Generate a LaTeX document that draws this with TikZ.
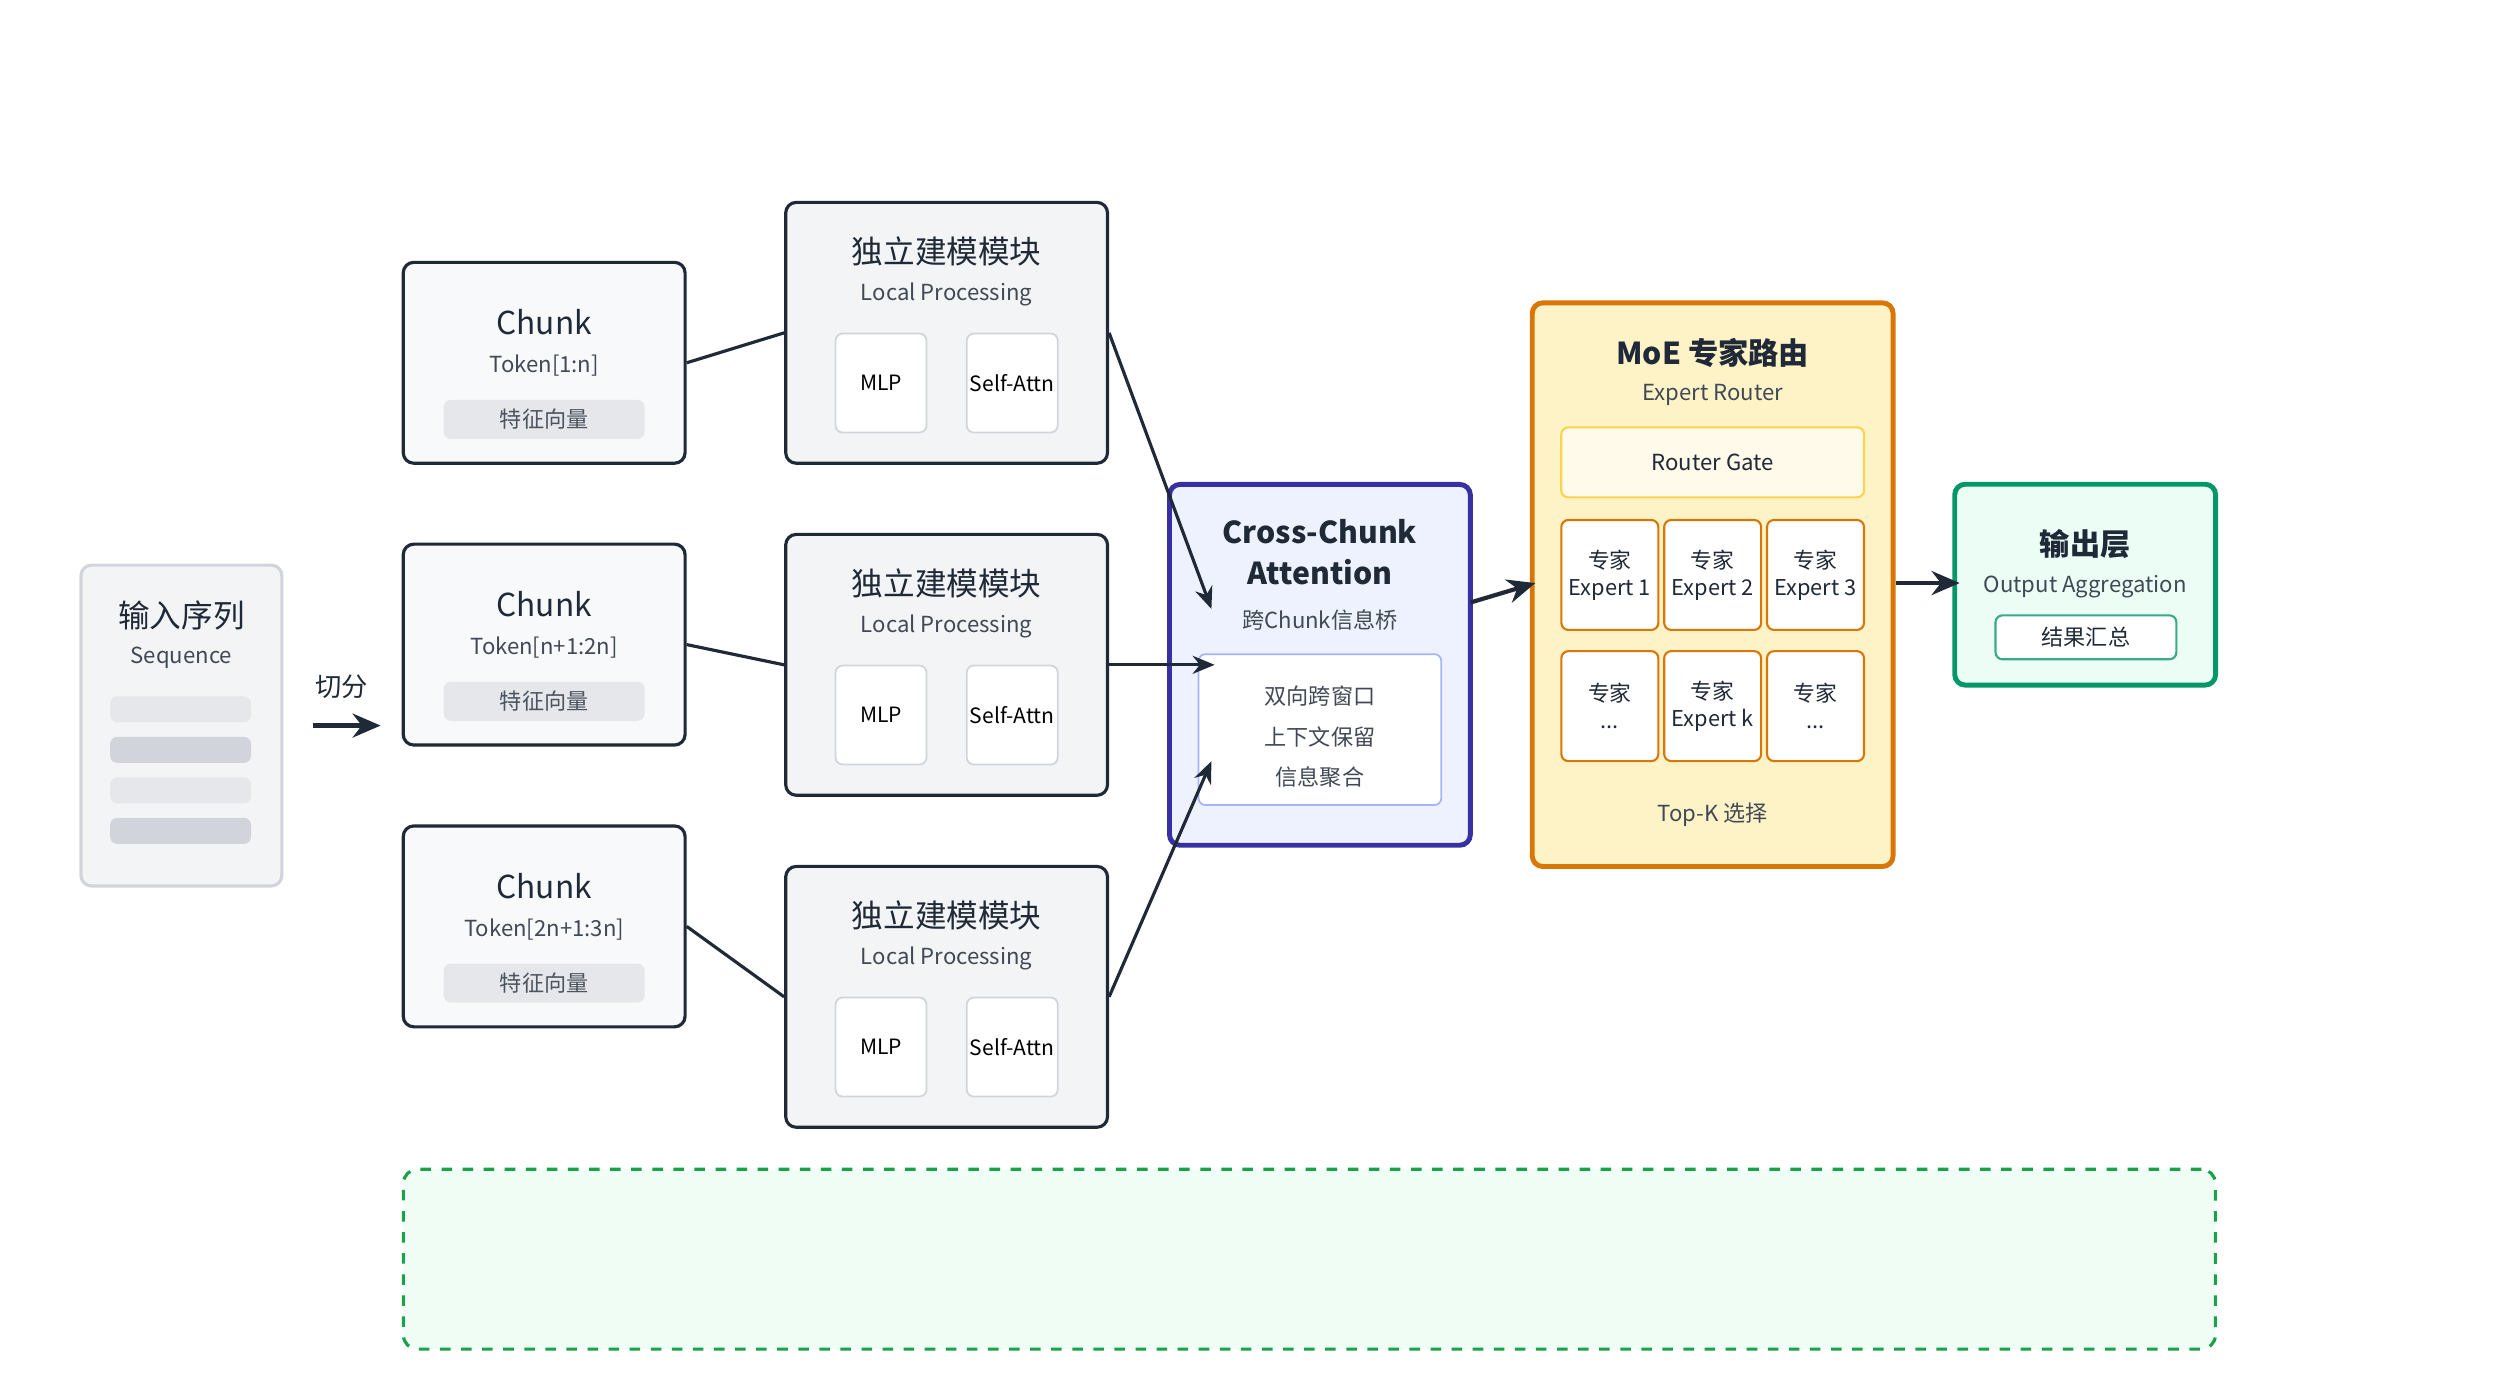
\documentclass[tikz,border=0pt]{standalone}
\usepackage{fontspec}
\setmainfont{Noto Sans CJK SC}
\usepackage{xcolor}
\usetikzlibrary{positioning,arrows.meta}
\definecolor{darkline}{HTML}{1F2937}
\definecolor{boxgray}{HTML}{F3F4F6}
\definecolor{chunkfill}{HTML}{F8F9FB}
\definecolor{bargray}{HTML}{E5E7EB}
\definecolor{bardark}{HTML}{D1D5DB}
\definecolor{crossfill}{HTML}{EEF2FF}
\definecolor{crossline}{HTML}{3730A3}
\definecolor{innerline}{HTML}{A5B4FC}
\definecolor{moefill}{HTML}{FEF3C7}
\definecolor{moeline}{HTML}{D97706}
\definecolor{gateline}{HTML}{FCD34D}
\definecolor{outfill}{HTML}{ECFDF5}
\definecolor{outline}{HTML}{059669}
\definecolor{dashfill}{HTML}{F0FDF4}
\definecolor{dashline}{HTML}{16A34A}
\begin{document}
\begin{tikzpicture}[
    x=0.0162cm, y=-0.0162cm,
    box/.style={rectangle, rounded corners=3pt, draw=darkline, line width=0.9pt, inner sep=0pt},
    chunkbox/.style={box, fill=chunkfill, minimum width=2.82cm, minimum height=2.01cm},
    localbox/.style={box, fill=boxgray, minimum width=3.22cm, minimum height=2.61cm},
    smallbox/.style={rectangle, rounded corners=2pt, draw=bardark, fill=white, line width=0.5pt, minimum width=0.91cm, minimum height=0.99cm, font=\fontsize{6}{7}\selectfont, inner sep=0pt},
    featbar/.style={rectangle, rounded corners=2pt, fill=bargray, minimum width=2.01cm, minimum height=0.39cm, font=\fontsize{6.3}{7}\selectfont, text=darkline!80, inner sep=0pt},
    expert/.style={rectangle, rounded corners=2pt, draw=moeline, fill=white, line width=0.6pt, minimum width=0.97cm, minimum height=1.10cm, align=center, font=\fontsize{6.2}{7.6}\selectfont, text=darkline, inner sep=0pt},
    title/.style={font=\fontsize{9}{10}\selectfont, text=darkline, inner sep=0pt},
    btitle/.style={font=\fontsize{8.6}{11.5}\selectfont\bfseries, text=darkline, align=center, inner sep=0pt},
    sub/.style={font=\fontsize{6.3}{7}\selectfont, text=darkline!85, inner sep=0pt},
    link/.style={line width=0.9pt, darkline},
    arrow/.style={-{Stealth[length=2.2mm, width=1.8mm]}, line width=0.9pt, darkline},
    bigarrow/.style={-{Stealth[length=2.8mm, width=2.4mm]}, line width=1.2pt, darkline},
]
\useasboundingbox (0,0) rectangle (1556,864);

% --- input sequence ---
\node[box, draw=bardark, fill=boxgray, minimum width=2.01cm, minimum height=3.21cm] (inp) at (112,448) {};
\node[title] (inpT) at (112,380) {输入序列};
\node[sub] (inpS) at (112,406) {Sequence};
\foreach \y/\c [count=\i] in {438/bargray, 463/bardark, 488/bargray, 513/bardark}
    \node[rectangle, rounded corners=2pt, fill=\c, minimum width=1.41cm, minimum height=0.26cm, inner sep=0pt] (bar\i) at (111.5,\y) {};

% --- split arrow ---
\node[title, font=\fontsize{7.5}{8}\selectfont] (splitT) at (211,424) {切分};
\coordinate (splitA) at (193,448);
\coordinate (splitB) at (235,448);
\draw[bigarrow] (splitA) -- (splitB);

% --- chunks and local modules ---
\foreach \i/\cy/\my/\tok in {1/224/205.5/{Token[1:n]}, 2/398/410.5/{Token[n+1:2n]}, 3/572/615.5/{Token[2n+1:3n]}} {
    \node[chunkbox] (chunk\i) at (336,\cy) {};
    \node[title] (chunkT\i) at (336,\cy-25) {Chunk};
    \node[sub] (chunkS\i) at (336,\cy+2) {\tok};
    \node[featbar] (feat\i) at (336,\cy+35) {特征向量};
    \node[localbox] (loc\i) at (584.5,\my) {};
    \node[title] (locT\i) at (584.5,\my-50) {独立建模模块};
    \node[sub] (locS\i) at (584.5,\my-24) {Local Processing};
    \node[smallbox] (mlp\i) at (544,\my+31) {MLP};
    \node[smallbox] (att\i) at (625,\my+31) {Self-Attn};
    \draw[link] (chunk\i.east) -- (loc\i.west);
}

% --- cross-chunk attention ---
\node[box, draw=crossline, fill=crossfill, line width=1.4pt, minimum width=3.01cm, minimum height=3.61cm] (cross) at (815,410.5) {};
\node[btitle] (crossT) at (815,341) {Cross-Chunk\\Attention};
\node[sub] (crossS) at (815,383) {跨Chunk信息桥};
\node[rectangle, rounded corners=2pt, draw=innerline, fill=white, line width=0.5pt, minimum width=2.43cm, minimum height=1.51cm, inner sep=0pt] (inner) at (815,450.5) {};
\node[sub] (innerA) at (815,430) {双向跨窗口};
\node[sub] (innerB) at (815,455) {上下文保留};
\node[sub] (innerC) at (815,480) {信息聚合};
\coordinate (inTop) at (748,376);
\coordinate (inMid) at (750,410.5);
\coordinate (inBot) at (748,470);
\draw[arrow] (loc1.east) -- (inTop);
\draw[arrow] (loc2.east) -- (inMid);
\draw[arrow] (loc3.east) -- (inBot);

% --- MoE router ---
\node[box, draw=moeline, fill=moefill, line width=1.4pt, minimum width=3.61cm, minimum height=5.64cm] (moe) at (1057.5,361) {};
\node[btitle] (moeT) at (1057.5,218) {MoE 专家路由};
\node[sub] (moeS) at (1057.5,244) {Expert Router};
\node[rectangle, rounded corners=2pt, draw=gateline, fill=white!60!moefill, line width=0.6pt, minimum width=3.03cm, minimum height=0.70cm, font=\fontsize{6.3}{7}\selectfont, text=darkline, inner sep=0pt] (gate) at (1057.5,285.5) {Router Gate};
\node[expert] (ex1) at (994,355) {专家\\Expert 1};
\node[expert] (ex2) at (1057.5,355) {专家\\Expert 2};
\node[expert] (ex3) at (1121,355) {专家\\Expert 3};
\node[expert] (ex4) at (994,436) {专家\\...};
\node[expert] (ex5) at (1057.5,436) {专家\\Expert k};
\node[expert] (ex6) at (1121,436) {专家\\...};
\node[sub] (topk) at (1057.5,503) {Top-K 选择};
\coordinate (crossOut) at (908,372);
\coordinate (moeIn) at (948,360);
\draw[bigarrow] (crossOut) -- (moeIn);

% --- output ---
\node[box, draw=outline, fill=outfill, line width=1.4pt, minimum width=2.61cm, minimum height=2.01cm] (out) at (1287.5,361) {};
\node[btitle] (outT) at (1287.5,336) {输出层};
\node[sub] (outS) at (1287.5,362) {Output Aggregation};
\node[rectangle, rounded corners=2pt, draw=outline!80, fill=white, line width=0.6pt, minimum width=1.81cm, minimum height=0.44cm, font=\fontsize{6.3}{7}\selectfont, text=darkline, inner sep=0pt] (res) at (1288,393.5) {结果汇总};
\coordinate (outIn) at (1210,360);
\draw[bigarrow] (moe.east |- outIn) -- (outIn);

% --- dashed panel ---
\node[rectangle, rounded corners=4pt, draw=dashline, dashed, fill=dashfill, line width=0.9pt, minimum width=18.13cm, minimum height=1.80cm] (panel) at (808.5,777.5) {};

\end{tikzpicture}
\end{document}
